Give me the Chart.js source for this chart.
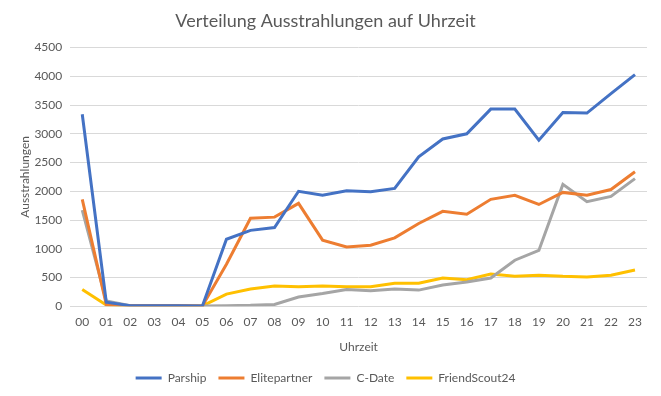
<!DOCTYPE html>
<html>
<head>
<meta charset="utf-8">
<script src="https://cdn.jsdelivr.net/npm/chart.js@4"></script>
<style>
  html, body { margin: 0; padding: 0; background: #fff; }
  #wrap { width: 661px; height: 396px; position: relative; }
</style>
</head>
<body>
<div id="wrap"><canvas id="lineChart"></canvas></div>
<script>
// Stunden 00..23
const hours = ['00','01','02','03','04','05','06','07','08','09','10','11',
               '12','13','14','15','16','17','18','19','20','21','22','23'];

const parship      = [3340, 70, 10, 10, 10, 5, 1165, 1320, 1370, 2000, 1930, 2010,
                      1990, 2050, 2600, 2910, 3000, 3430, 3430, 2890, 3370, 3360, 3700, 4030];
const elitepartner = [1860, 30, 10, 10, 10, 5, 730, 1530, 1550, 1790, 1150, 1030,
                      1060, 1190, 1440, 1650, 1600, 1860, 1930, 1770, 1980, 1930, 2030, 2340];
const cDate        = [1670, 90, 10, 5, 5, 5, 10, 15, 30, 160, 220, 290,
                      270, 300, 280, 370, 420, 490, 800, 970, 2120, 1820, 1910, 2220];
const friendScout  = [290, 20, 5, 5, 5, 5, 210, 300, 350, 340, 350, 340,
                      340, 400, 400, 490, 460, 560, 520, 540, 520, 510, 540, 630];

const yTicksMax = 4500;
const yStep = 500;

const textColor = '#595959';
const fontFamily = 'Lato, "Open Sans", sans-serif';

function series(label, data, color) {
    return {
        label: label,
        data: data,
        borderColor: color,
        backgroundColor: color,
        borderWidth: 3,
        pointRadius: 0,
        tension: 0,
        pointStyle: 'line'
    };
}

const ctx = document.getElementById('lineChart');
new Chart(ctx, {
    type: 'line',
    data: {
        labels: hours,
        datasets: [
            series('Parship', parship, '#4472C4'),
            series('Elitepartner', elitepartner, '#ED7D31'),
            series('C-Date', cDate, '#A5A5A5'),
            series('FriendScout24', friendScout, '#FFC000')
        ]
    },
    options: {
        responsive: true,
        maintainAspectRatio: false,
        animation: false,
        layout: { padding: { top: 6, right: 14, left: 4, bottom: 2 } },
        plugins: {
            title: {
                display: true,
                text: 'Verteilung Ausstrahlungen auf Uhrzeit',
                color: textColor,
                font: { family: fontFamily, size: 18, weight: 'normal' },
                padding: { top: 4, bottom: 16 }
            },
            legend: {
                position: 'bottom',
                labels: {
                    usePointStyle: true,
                    pointStyle: 'line',
                    pointStyleWidth: 26,
                    color: textColor,
                    font: { family: fontFamily, size: 12 },
                    padding: 12
                }
            },
            tooltip: { enabled: false }
        },
        scales: {
            x: {
                offset: true,
                grid: { display: false },
                border: { display: false },
                ticks: {
                    color: textColor,
                    font: { family: fontFamily, size: 12 },
                    maxRotation: 0,
                    autoSkip: false,
                    padding: 1
                },
                title: {
                    display: true,
                    text: 'Uhrzeit',
                    color: textColor,
                    font: { family: fontFamily, size: 12 },
                    padding: { top: 9, bottom: 6 }
                }
            },
            y: {
                min: 0,
                max: yTicksMax,
                grid: { color: '#D9D9D9', drawTicks: false },
                border: { display: false },
                ticks: {
                    stepSize: yStep,
                    color: textColor,
                    font: { family: fontFamily, size: 12 },
                    padding: 8,
                    callback: v => String(v)
                },
                title: {
                    display: true,
                    text: 'Ausstrahlungen',
                    color: textColor,
                    font: { family: fontFamily, size: 12 },
                    padding: { top: 14, bottom: -6 }
                }
            }
        }
    }
});
</script>
</body>
</html>
